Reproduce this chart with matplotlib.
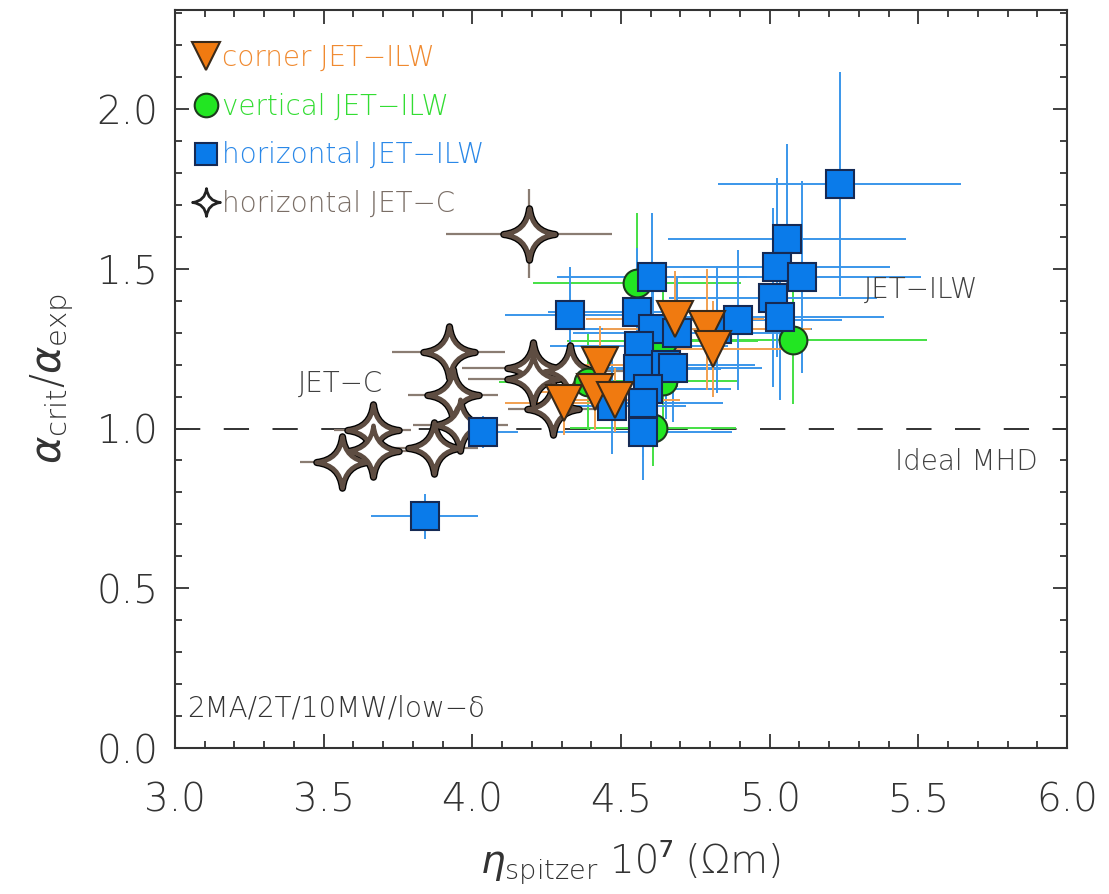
import numpy as np
import matplotlib
matplotlib.use('Agg')
import matplotlib.pyplot as plt
from matplotlib.path import Path
from matplotlib.lines import Line2D

plt.rcParams['font.family'] = ['DejaVu Sans']
plt.rcParams['font.weight'] = 'light'
plt.rcParams['mathtext.fontset'] = 'custom'
plt.rcParams['mathtext.rm'] = 'DejaVu Sans:light'
plt.rcParams['mathtext.it'] = 'DejaVu Sans:italic:light'
plt.rcParams['mathtext.bf'] = 'DejaVu Sans:bold'

# horizontal JET-C (stars)
c_x = [4.19, 3.92, 3.935, 3.96, 3.87, 3.665, 3.665, 3.56, 4.205, 4.205, 4.27, 4.33]
c_y = [1.61, 1.24, 1.105, 1.01, 0.94, 0.995, 0.93, 0.895, 1.19, 1.155, 1.06, 1.18]
c_xerr = [0.28, 0.19, 0.15, 0.16, 0.15, 0.13, 0.12, 0.14, 0.24, 0.22, 0.15, 0.2]
c_yerr = [0.14, 0.06, 0.05, 0.05, 0.05, 0.05, 0.05, 0.04, 0.06, 0.05, 0.05, 0.05]

# vertical JET-ILW (circles)
v_x = [4.555, 4.64, 4.39, 4.608, 5.08, 4.64]
v_y = [1.455, 1.275, 1.145, 1.003, 1.278, 1.15]
v_xerr = [0.35, 0.32, 0.3, 0.28, 0.45, 0.25]
v_yerr = [0.22, 0.2, 0.15, 0.12, 0.2, 0.15]

# horizontal JET-ILW (squares)
h_x = [3.84, 4.035, 4.33, 4.605, 4.555, 4.608, 4.69, 4.56, 4.557, 4.652, 4.675,
       4.59, 4.574, 4.574, 4.47, 4.823, 4.894, 5.058, 5.025, 5.109, 5.011, 5.035, 5.235]
h_y = [0.725, 0.99, 1.355, 1.475, 1.365, 1.31, 1.30, 1.257, 1.185, 1.20, 1.19,
       1.125, 1.08, 0.99, 1.07, 1.31, 1.34, 1.592, 1.505, 1.475, 1.41, 1.35, 1.765]
h_xerr = [0.18, 0.12, 0.22, 0.32, 0.3, 0.3, 0.35, 0.3, 0.28, 0.3, 0.3,
          0.28, 0.27, 0.3, 0.25, 0.32, 0.35, 0.4, 0.38, 0.4, 0.35, 0.35, 0.41]
h_yerr = [0.07, 0.05, 0.15, 0.2, 0.2, 0.18, 0.17, 0.18, 0.18, 0.17, 0.17,
          0.17, 0.17, 0.15, 0.15, 0.2, 0.22, 0.3, 0.28, 0.3, 0.28, 0.26, 0.35]

# corner JET-ILW (triangles)
t_x = [4.31, 4.43, 4.413, 4.48, 4.682, 4.789, 4.81]
t_y = [1.08, 1.20, 1.115, 1.09, 1.342, 1.31, 1.248]
t_xerr = [0.2, 0.25, 0.22, 0.22, 0.3, 0.35, 0.3]
t_yerr = [0.1, 0.12, 0.12, 0.1, 0.15, 0.19, 0.15]

# four-pointed star marker with concave sides
k = 0.1
star = Path([(0, 1), (k, k), (1, 0), (k, -k), (0, -1),
             (-k, -k), (-1, 0), (-k, k), (0, 1), (0, 1)],
            [Path.MOVETO, Path.CURVE3, Path.CURVE3, Path.CURVE3, Path.CURVE3,
             Path.CURVE3, Path.CURVE3, Path.CURVE3, Path.CURVE3, Path.CLOSEPOLY])

orange, green, blue, brown = '#F07A10', '#22E622', '#0A7BEA', '#5E4D42'

fig = plt.figure(figsize=(11.09, 8.94), dpi=100)
ax = fig.add_axes([0.1578, 0.1633, 0.8043, 0.8255])

ax.axhline(1.0, color='#222222', lw=1.3, ls=(0, (14, 13)), zorder=1)

# error bars
ax.errorbar(c_x, c_y, xerr=c_xerr, yerr=c_yerr, fmt='none', ecolor='#8A7C72', elinewidth=1.6, zorder=2)
ax.errorbar(v_x, v_y, xerr=v_xerr, yerr=v_yerr, fmt='none', ecolor='#44E044', elinewidth=1.4, zorder=2)
ax.errorbar(h_x, h_y, xerr=h_xerr, yerr=h_yerr, fmt='none', ecolor='#3A96EA', elinewidth=1.4, zorder=2)
ax.errorbar(t_x, t_y, xerr=t_xerr, yerr=t_yerr, fmt='none', ecolor='#F2A050', elinewidth=1.4, zorder=2)

# markers
ax.plot(c_x, c_y, ls='none', marker=star, ms=37, mfc='white', mec='black', mew=5.2, zorder=3)
ax.plot(c_x, c_y, ls='none', marker=star, ms=37, mfc='white', mec=brown, mew=3.3, zorder=3)
ax.plot(v_x, v_y, ls='none', marker='o', ms=20, mfc=green, mec='#1E3A1E', mew=1.5, zorder=4)
ax.plot(h_x, h_y, ls='none', marker='s', ms=20, mfc=blue, mec='#152A55', mew=1.5, zorder=5)
ax.plot(t_x, t_y, ls='none', marker='v', ms=26, mfc=orange, mec='#3A2A1A', mew=1.5, zorder=6)

ax.set_xlim(3.0, 6.0)
ax.set_ylim(0.0, 2.31)
ax.set_xticks(np.arange(3.0, 6.01, 0.5))
ax.set_yticks(np.arange(0.0, 2.01, 0.5))
ax.set_xticks(np.arange(3.0, 6.01, 0.1), minor=True)
ax.set_yticks(np.arange(0.0, 2.31, 0.1), minor=True)
ax.xaxis.set_major_formatter(matplotlib.ticker.FormatStrFormatter('%.1f'))
ax.yaxis.set_major_formatter(matplotlib.ticker.FormatStrFormatter('%.1f'))
ax.tick_params(which='both', direction='in', top=True, right=True, color='#333333', width=1.3)
ax.tick_params(which='major', length=10, labelsize=28, labelcolor='#333333')
ax.tick_params(which='minor', length=5)
ax.tick_params(axis='x', which='major', pad=24)
ax.tick_params(axis='y', which='major', pad=12)
for s in ax.spines.values():
    s.set_color('#333333')
    s.set_linewidth(1.5)

# x label in two pieces so the plain part stays light
fig.text(0.540, 0.0235, r'$\eta_{\rm spitzer}$', fontsize=28, color='#333333', ha='right', va='baseline')
fig.text(0.550, 0.0235, '10\u2077 (\u03a9m)', fontsize=28, color='#333333', ha='left', va='baseline',
         family=['DejaVu Sans', 'Noto Sans', 'Liberation Sans'])
ax.set_ylabel(r'$\alpha_{\rm crit}/\alpha_{\rm exp}$', fontsize=30, color='#333333', labelpad=14)

ax.text(3.555, 1.14, 'JET\u2212C', fontsize=20, color='#404040', ha='center', va='center')
ax.text(5.51, 1.435, 'JET\u2212ILW', fontsize=20, color='#404040', ha='center', va='center')
ax.text(5.66, 0.895, 'Ideal MHD', fontsize=20, color='#404040', ha='center', va='center')
ax.text(0.014, 0.054, '2MA/2T/10MW/low\u2212\u03b4', fontsize=20, color='#333333',
        ha='left', va='center', transform=ax.transAxes)

handles = [
    Line2D([], [], ls='none', marker='v', ms=20, mfc=orange, mec='#3A2A1A', mew=1.5),
    Line2D([], [], ls='none', marker='o', ms=17, mfc=green, mec='#1E3A1E', mew=1.5),
    Line2D([], [], ls='none', marker='s', ms=16, mfc=blue, mec='#152A55', mew=1.5),
    Line2D([], [], ls='none', marker=star, ms=20, mfc='white', mec='#222222', mew=2.0),
]
labels = ['corner JET\u2212ILW', 'vertical JET\u2212ILW', 'horizontal JET\u2212ILW', 'horizontal JET\u2212C']
leg = ax.legend(handles, labels, loc='upper left', bbox_to_anchor=(0.0, 0.977), frameon=False,
                fontsize=20, handlelength=1.0, handletextpad=0.1, labelspacing=0.75,
                borderaxespad=0.2, labelcolor=['#F08A30', '#33DD33', '#2A88E8', '#7A6E66'])

fig.savefig('out.png', dpi=100)
